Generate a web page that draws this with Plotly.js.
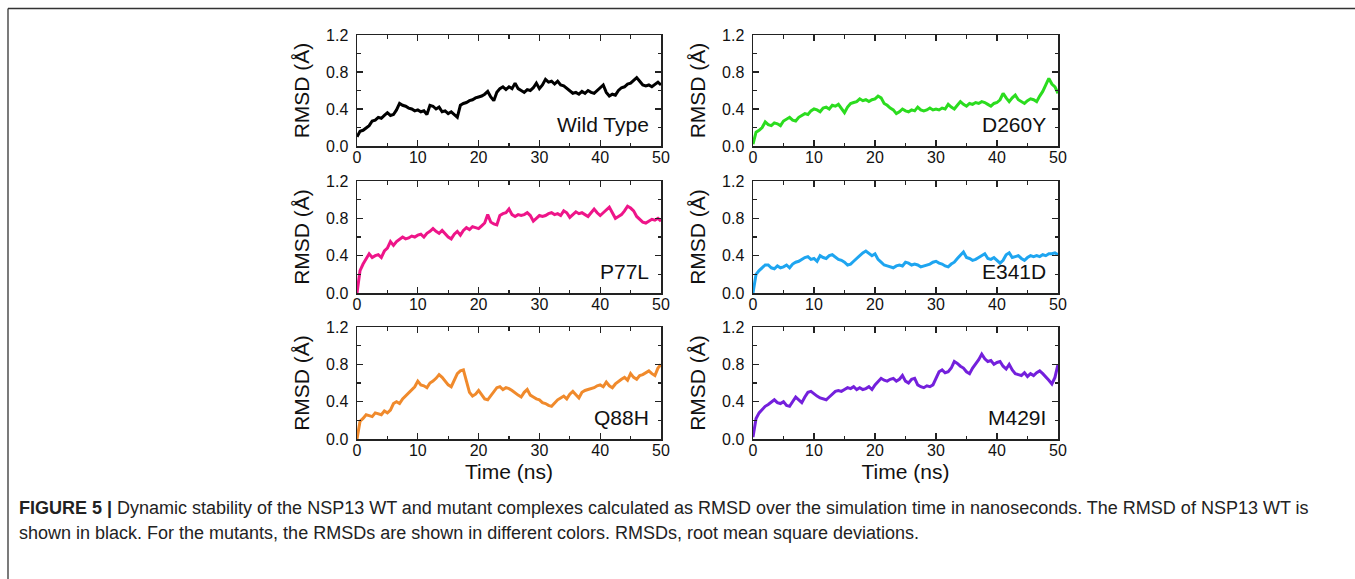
<!DOCTYPE html>
<html>
<head>
<meta charset="utf-8">
<script src="https://cdn.plot.ly/plotly-3.0.1.min.js"></script>
<style>html,body{margin:0;padding:0;background:#fff;}#chart{width:1355px;height:579px;}</style>
</head>
<body>
<div id="chart"></div>
<script>
// Time (ns)
const time = [0,0.5,1,1.5,2,2.5,3,3.5,4,4.5,5,5.5,6,6.5,7,7.5,8,8.5,9,9.5,10,10.5,11,11.5,12,12.5,13,13.5,14,14.5,15,15.5,16,16.5,17,17.5,18,18.5,19,19.5,20,20.5,21,21.5,22,22.5,23,23.5,24,24.5,25,25.5,26,26.5,27,27.5,28,28.5,29,29.5,30,30.5,31,31.5,32,32.5,33,33.5,34,34.5,35,35.5,36,36.5,37,37.5,38,38.5,39,39.5,40,40.5,41,41.5,42,42.5,43,43.5,44,44.5,45,45.5,46,46.5,47,47.5,48,48.5,49,49.5,50];

const wildType = [0.10,0.16,0.17,0.20,0.22,0.27,0.28,0.31,0.30,0.33,0.36,0.33,0.34,0.39,0.46,0.44,0.43,0.41,0.40,0.38,0.39,0.37,0.38,0.34,0.44,0.43,0.40,0.42,0.37,0.38,0.35,0.37,0.34,0.31,0.44,0.46,0.47,0.49,0.50,0.52,0.53,0.54,0.56,0.59,0.53,0.49,0.58,0.62,0.64,0.61,0.64,0.62,0.68,0.62,0.60,0.58,0.61,0.60,0.63,0.68,0.62,0.66,0.72,0.69,0.70,0.67,0.70,0.66,0.65,0.62,0.60,0.57,0.58,0.56,0.59,0.57,0.60,0.58,0.57,0.60,0.62,0.66,0.58,0.54,0.56,0.55,0.60,0.63,0.64,0.67,0.68,0.71,0.74,0.70,0.66,0.65,0.66,0.64,0.67,0.69,0.66];

const d260y = [0.02,0.15,0.17,0.20,0.26,0.23,0.22,0.25,0.24,0.22,0.27,0.29,0.31,0.28,0.27,0.31,0.33,0.35,0.34,0.38,0.40,0.39,0.37,0.41,0.42,0.40,0.44,0.43,0.45,0.40,0.36,0.42,0.46,0.47,0.48,0.51,0.49,0.50,0.48,0.50,0.51,0.54,0.52,0.46,0.44,0.41,0.39,0.35,0.37,0.40,0.38,0.37,0.39,0.38,0.42,0.39,0.38,0.39,0.41,0.39,0.40,0.39,0.41,0.40,0.45,0.42,0.40,0.44,0.48,0.45,0.43,0.46,0.45,0.47,0.46,0.48,0.47,0.45,0.43,0.46,0.47,0.50,0.57,0.52,0.48,0.52,0.55,0.50,0.48,0.46,0.49,0.51,0.50,0.48,0.54,0.59,0.66,0.73,0.67,0.64,0.57];

const p77l = [0.00,0.24,0.31,0.36,0.42,0.38,0.40,0.41,0.38,0.45,0.48,0.55,0.51,0.55,0.58,0.60,0.58,0.59,0.61,0.60,0.62,0.63,0.60,0.64,0.66,0.69,0.66,0.64,0.67,0.63,0.60,0.58,0.63,0.66,0.62,0.67,0.70,0.68,0.71,0.70,0.69,0.72,0.75,0.84,0.76,0.74,0.73,0.83,0.85,0.86,0.90,0.84,0.82,0.84,0.83,0.84,0.86,0.83,0.77,0.80,0.83,0.82,0.83,0.85,0.86,0.84,0.85,0.83,0.88,0.86,0.81,0.84,0.87,0.85,0.86,0.84,0.82,0.86,0.90,0.86,0.83,0.86,0.89,0.92,0.86,0.80,0.82,0.84,0.88,0.93,0.91,0.88,0.82,0.79,0.76,0.75,0.77,0.79,0.78,0.80,0.77];

const e341d = [0.00,0.20,0.24,0.27,0.30,0.30,0.27,0.26,0.29,0.27,0.28,0.30,0.27,0.31,0.33,0.34,0.36,0.38,0.39,0.36,0.37,0.34,0.40,0.38,0.37,0.40,0.41,0.38,0.36,0.35,0.33,0.30,0.31,0.34,0.37,0.41,0.43,0.45,0.42,0.40,0.42,0.36,0.33,0.30,0.29,0.28,0.27,0.29,0.30,0.29,0.33,0.32,0.30,0.31,0.30,0.28,0.29,0.30,0.31,0.33,0.34,0.32,0.31,0.29,0.28,0.31,0.33,0.37,0.40,0.44,0.38,0.37,0.35,0.36,0.38,0.40,0.42,0.37,0.36,0.38,0.35,0.32,0.35,0.41,0.43,0.38,0.39,0.40,0.37,0.35,0.38,0.40,0.39,0.40,0.39,0.41,0.40,0.42,0.42,0.43,0.41];

const q88h = [0.00,0.19,0.22,0.26,0.25,0.24,0.28,0.27,0.26,0.30,0.28,0.31,0.38,0.40,0.38,0.43,0.46,0.50,0.53,0.56,0.62,0.58,0.57,0.55,0.60,0.62,0.65,0.69,0.66,0.62,0.58,0.56,0.64,0.70,0.73,0.74,0.62,0.50,0.46,0.48,0.52,0.47,0.43,0.42,0.46,0.50,0.55,0.56,0.53,0.55,0.54,0.52,0.49,0.47,0.45,0.50,0.53,0.47,0.45,0.43,0.42,0.39,0.38,0.36,0.35,0.39,0.42,0.44,0.46,0.43,0.48,0.51,0.47,0.44,0.50,0.52,0.53,0.54,0.55,0.57,0.58,0.56,0.61,0.57,0.55,0.59,0.62,0.64,0.66,0.63,0.70,0.66,0.64,0.68,0.69,0.71,0.73,0.70,0.68,0.76,0.80];

const m429i = [0.02,0.22,0.28,0.32,0.35,0.37,0.40,0.42,0.39,0.38,0.40,0.36,0.35,0.40,0.45,0.42,0.39,0.45,0.50,0.51,0.48,0.46,0.44,0.43,0.42,0.45,0.48,0.51,0.52,0.51,0.53,0.55,0.54,0.56,0.53,0.55,0.53,0.54,0.56,0.53,0.58,0.61,0.65,0.63,0.62,0.64,0.65,0.62,0.64,0.68,0.62,0.60,0.64,0.65,0.58,0.56,0.55,0.57,0.56,0.58,0.65,0.72,0.74,0.71,0.72,0.76,0.83,0.81,0.78,0.76,0.72,0.70,0.76,0.80,0.85,0.91,0.86,0.83,0.84,0.80,0.82,0.83,0.78,0.75,0.80,0.74,0.70,0.69,0.68,0.71,0.67,0.70,0.68,0.71,0.73,0.70,0.67,0.63,0.59,0.66,0.80];

const panelLabels = ["Wild Type","D260Y","P77L","E341D","Q88H","M429I"];
const panelColors = ["#000000","#2bdc1f","#ee1589","#1ea5f0","#f08a2c","#7420dc"];
const panelSeries = [wildType,d260y,p77l,e341d,q88h,m429i];
const xTickVals = [0,10,20,30,40,50];
const yTickVals = [0,0.4,0.8,1.2];

const W = 1355, H = 579;
const colPx = [[357,661],[753,1058]];
const rowPx = [[35,146],[181,293],[327,439]];

const FONT = "Liberation Sans, Arial, sans-serif";
const traces = [];
const layout = {
  width: W, height: H,
  margin: {l:0,r:0,t:0,b:0},
  paper_bgcolor: "#ffffff", plot_bgcolor: "#ffffff",
  showlegend: false,
  font: {family: FONT, color: "#111"},
  annotations: [], shapes: []
};

for (let i = 0; i < 6; i++) {
  const r = Math.floor(i/2), c = i % 2;
  const n = i + 1;
  const xa = n === 1 ? "xaxis" : "xaxis" + n;
  const ya = n === 1 ? "yaxis" : "yaxis" + n;
  const xr = n === 1 ? "x" : "x" + n;
  const yr = n === 1 ? "y" : "y" + n;
  traces.push({
    x: time, y: panelSeries[i], type: "scatter", mode: "lines",
    line: {color: panelColors[i], width: 3},
    xaxis: xr, yaxis: yr, hoverinfo: "skip"
  });
  layout[xa] = {
    domain: [colPx[c][0]/W, colPx[c][1]/W],
    anchor: yr, range: [0,50], tickvals: xTickVals,
    ticks: "inside", ticklen: 6, tickwidth: 1.3, tickcolor: "#222",
    minor: {ticks: "inside", ticklen: 3.5, tickwidth: 1.2, dtick: 5, tick0: 0, tickcolor: "#222"},
    showline: true, linecolor: "#222", linewidth: 1.5, mirror: "ticks",
    showgrid: false, zeroline: false,
    tickfont: {size: 16, family: FONT, color: "#111"},
    ticklabelstandoff: -4,
    fixedrange: true
  };
  if (r === 2) {
    layout[xa].title = {text: "Time (ns)", font: {size: 21, family: FONT, color: "#111"}, standoff: 6};
  }
  layout[ya] = {
    domain: [1 - rowPx[r][1]/H, 1 - rowPx[r][0]/H],
    anchor: xr, range: [0,1.2], tickvals: yTickVals, tickformat: ".1f",
    ticks: "inside", ticklen: 6, tickwidth: 1.3, tickcolor: "#222",
    minor: {ticks: "inside", ticklen: 3.5, tickwidth: 1.2, dtick: 0.2, tick0: 0, tickcolor: "#222"},
    showline: true, linecolor: "#222", linewidth: 1.5, mirror: "ticks",
    showgrid: false, zeroline: false,
    tickfont: {size: 16, family: FONT, color: "#111"},
    ticklabelstandoff: 4,
    title: {text: "RMSD (Å)", font: {size: 21, family: FONT, color: "#111"}, standoff: 10},
    fixedrange: true
  };
  layout.annotations.push({
    text: panelLabels[i], xref: xr + " domain", yref: yr + " domain",
    x: 0.968, y: 0.19, xanchor: "right", yanchor: "middle", showarrow: false,
    font: {size: 21, family: FONT, color: "#111"}
  });
}

// caption
const CAP = "Liberation Sans, Arial, sans-serif";
layout.annotations.push({
  text: "<b>FIGURE 5 |</b> Dynamic stability of the NSP13 WT and mutant complexes calculated as RMSD over the simulation time in nanoseconds. The RMSD of NSP13 WT is",
  xref: "paper", yref: "paper", x: 17/W, y: 1 - 508/H, xanchor: "left", yanchor: "middle",
  showarrow: false, font: {size: 18, family: CAP, color: "#222"}
});
layout.annotations.push({
  text: "shown in black. For the mutants, the RMSDs are shown in different colors. RMSDs, root mean square deviations.",
  xref: "paper", yref: "paper", x: 17/W, y: 1 - 533/H, xanchor: "left", yanchor: "middle",
  showarrow: false, font: {size: 18, family: CAP, color: "#222"}
});

// frame (top and left rules)
layout.shapes.push({type: "line", xref: "paper", yref: "paper", x0: 8/W, x1: 1, y0: 1 - 8.5/H, y1: 1 - 8.5/H, line: {color: "#333", width: 1.3}});
layout.shapes.push({type: "line", xref: "paper", yref: "paper", x0: 8/W, x1: 8/W, y0: 1 - 8.5/H, y1: 0, line: {color: "#333", width: 1.3}});

Plotly.newPlot("chart", traces, layout, {displayModeBar: false, staticPlot: true});
</script>
</body>
</html>
